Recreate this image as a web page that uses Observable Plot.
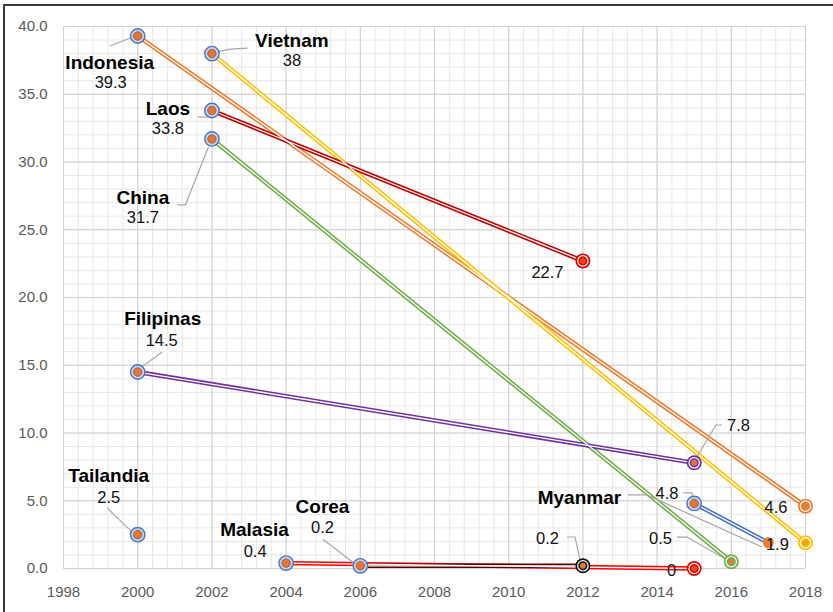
<!DOCTYPE html>
<html><head><meta charset="utf-8">
<script src="https://cdn.jsdelivr.net/npm/d3@7"></script>
<script src="https://cdn.jsdelivr.net/npm/@observablehq/plot@0.6"></script>
<style>
html,body{margin:0;padding:0;background:#fff;}
#wrap{position:relative;width:833px;height:612px;overflow:hidden;background:#fff;}
#frame{position:absolute;left:3px;top:4px;width:900px;height:700px;border-top:2px solid #3b3b3b;border-left:2px solid #3b3b3b;pointer-events:none;}
</style></head><body><div id="wrap"><div id="chart"></div><div id="frame"></div></div>
<script>
// ---- data ----
const countries  = ["Indonesia", "Vietnam", "Laos", "China", "Filipinas", "Tailandia", "Myanmar", "Malasia", "Corea"];
const startYear  = [2000, 2002, 2002, 2002, 2000, 2000, 2015, 2004, 2006];
const startValue = [39.3, 38, 33.8, 31.7, 14.5, 2.5, 4.8, 0.4, 0.2];
const endYear    = [2018, 2018, 2012, 2016, 2015, null, 2017, 2015, 2012];
const endValue   = [4.6, 1.9, 22.7, 0.5, 7.8, null, 1.9, 0, 0.2];
const xTicks = [1998, 2000, 2002, 2004, 2006, 2008, 2010, 2012, 2014, 2016, 2018];
const yTicks = [0, 5, 10, 15, 20, 25, 30, 35, 40];

// ---- styles ----
const lineColor  = ["#ED7D31", "#FFC000", "#C00000", "#70AD47", "#7030A0", null, "#4472C4", "#FF0000", "#5a0000"];
const endColor   = ["#ED7D31", "#FFC000", "#E00000", "#70AD47", "#7030A0", null, "#ED7D31", "#E00000", "#111111"];
const endCenter  = ["#ED7D31", "#F5A21A", "#F04A10", "#D8843A", "#E0783A", null, "#ED7D31", "#F04A10", "#E0783A"];
const endPlain   = [false, false, false, false, false, null, true, false, false];

// label offsets (px) relative to a point: [country, "s"|"e", text kind, dx, dy]
const labelCfg = [
  ["Indonesia","s","name",-28,26.5],["Indonesia","s","value",-27,46.5],
  ["Vietnam","s","name",80,-13],["Vietnam","s","value",80,7],
  ["Laos","s","name",-44,-2],["Laos","s","value",-44,18],
  ["China","s","name",-69,58.5],["China","s","value",-69,78.5],
  ["Filipinas","s","name",25,-53.5],["Filipinas","s","value",24,-31.5],
  ["Tailandia","s","name",-29,-59],["Tailandia","s","value",-29,-37],
  ["Malasia","s","name",-31.6,-33.6],["Malasia","s","value",-31,-11.6],
  ["Corea","s","name",-37.8,-59.3],["Corea","s","value",-37.8,-38.3],
  ["Myanmar","e","name",-189,-45.3],["Myanmar","s","value",-27.2,-10],["Myanmar","e","value",9,2],
  ["Indonesia","e","value",-29.5,2],["Laos","e","value",-35.4,11.6],["China","e","value",-70.8,-23.2],
  ["Filipinas","e","value",44.3,-37.3],["Malasia","e","value",-22.7,2],["Corea","e","value",-35.4,-27.3]
];
const leaderCfg = [
  ["Indonesia","s",[[-27,10.5],[-7,2.5]]],
  ["Vietnam","s",[[4,-1],[19,-4],[36,-5]]],
  ["Laos","s",[[-14,7],[-2,7]]],
  ["China","s",[[-34,66.5],[-26,66.5],[-3,8.5]]],
  ["Filipinas","s",[[3,-3.5],[25,-19.5]]],
  ["Tailandia","s",[[-30,-26],[-5,-2]]],
  ["Corea","s",[[-37,-26],[-5,-1.5]]],
  ["Myanmar","e",[[-140,-47.3],[-121,-47.3],[-6,4.7]]],
  ["Myanmar","s",[[-10.7,-10],[-1.7,-10],[-0.7,-5]]],
  ["Filipinas","e",[[28.3,-37.3],[22.3,-37.3],[1.3,-2.3]]],
  ["China","e",[[-53.8,-24.2],[-43.8,-24.2],[-3.8,-1.2]]],
  ["Corea","e",[[-15.4,-28.3],[-7.4,-28.3],[-2.4,-5.3]]]
];

// ---- derived tables ----
const startPts = countries.map((c,i)=>({country:c, year:startYear[i], value:startValue[i]}));
const endPts = countries.map((c,i)=>({country:c, year:endYear[i], value:endValue[i], color:endColor[i], center:endCenter[i], plain:endPlain[i]})).filter(d=>d.year!=null);
const lineData = [];
countries.forEach((c,i)=>{ if(endYear[i]!=null){ lineData.push({country:c,year:startYear[i],value:startValue[i],color:lineColor[i]}); lineData.push({country:c,year:endYear[i],value:endValue[i],color:lineColor[i]}); }});
function pt(country, which){ const i=countries.indexOf(country); return which==="s"?{year:startYear[i],value:startValue[i]}:{year:endYear[i],value:endValue[i]}; }

const xMinor = d3.range(0,51).map(i=>1998+i*0.4);
const yMinor = d3.range(0,41);

const font = "'Liberation Sans', Arial, sans-serif";
const textMarks = labelCfg.map(([c,w,kind,dx,dy])=>{
  const p = pt(c,w);
  const bold = kind==="name";
  return Plot.text([{...p, label: bold? c : String(p.value)}], {x:"year", y:"value", text:"label", dx, dy,
    textAnchor:"middle", lineAnchor:"middle", fontSize: bold?19:16.5, fontWeight: bold?"bold":"normal", fill: bold?"#000":"#111"});
});

function leaders(index, scales){
  const g = d3.create("svg:g").attr("fill","none").attr("stroke","#a6a6a6").attr("stroke-width",1.2);
  for(const [c,w,pts] of leaderCfg){
    const p = pt(c,w); const px = scales.x(p.year), py = scales.y(p.value);
    g.append("path").attr("d", d3.line()(pts.map(([dx,dy])=>[px+dx,py+dy])));
  }
  return g.node();
}

const chart = Plot.plot({
  width:833, height:612, marginLeft:63, marginRight:28, marginTop:26, marginBottom:44,
  x:{domain:[1998,2018]}, y:{domain:[0,40]}, color:{type:"identity"},
  style:{fontFamily:font, background:"transparent"},
  marks:[
    Plot.gridX({ticks:xMinor, stroke:"#e7e7e7", strokeOpacity:1}),
    Plot.gridY({ticks:yMinor, stroke:"#e7e7e7", strokeOpacity:1}),
    Plot.gridX({ticks:xTicks, stroke:"#d0d0d0", strokeOpacity:1}),
    Plot.gridY({ticks:yTicks, stroke:"#d0d0d0", strokeOpacity:1}),
    Plot.axisX({ticks:xTicks, tickSize:0, tickPadding:18, tickFormat:d=>String(d), fontSize:15, color:"#595959", label:null}),
    Plot.axisY({ticks:yTicks, tickSize:0, tickPadding:16, tickFormat:d=>d.toFixed(1), fontSize:15, color:"#595959", label:null}),
    Plot.line(lineData, {x:"year", y:"value", z:"country", stroke:"color", strokeWidth:4.4}),
    Plot.line(lineData, {x:"year", y:"value", z:"country", stroke:"white", strokeWidth:1.3}),
    leaders,
    Plot.dot(startPts, {x:"year", y:"value", r:7.2, fill:"#c6d3ee", stroke:"#4a74c4", strokeWidth:1.4}),
    Plot.dot(startPts, {x:"year", y:"value", r:4.2, fill:"#e2773a", stroke:"#9a4b1c", strokeWidth:0.8}),
    Plot.dot(endPts.filter(d=>!d.plain), {x:"year", y:"value", r:7.5, fill:"color"}),
    Plot.dot(endPts.filter(d=>!d.plain), {x:"year", y:"value", r:5.2, fill:"none", stroke:"white", strokeWidth:1.2}),
    Plot.dot(endPts.filter(d=>!d.plain), {x:"year", y:"value", r:3, fill:"center"}),
    Plot.dot(endPts.filter(d=>d.plain), {x:"year", y:"value", r:5.5, fill:"center"}),
    ...textMarks
  ]
});
document.getElementById("chart").appendChild(chart);
</script></body></html>
